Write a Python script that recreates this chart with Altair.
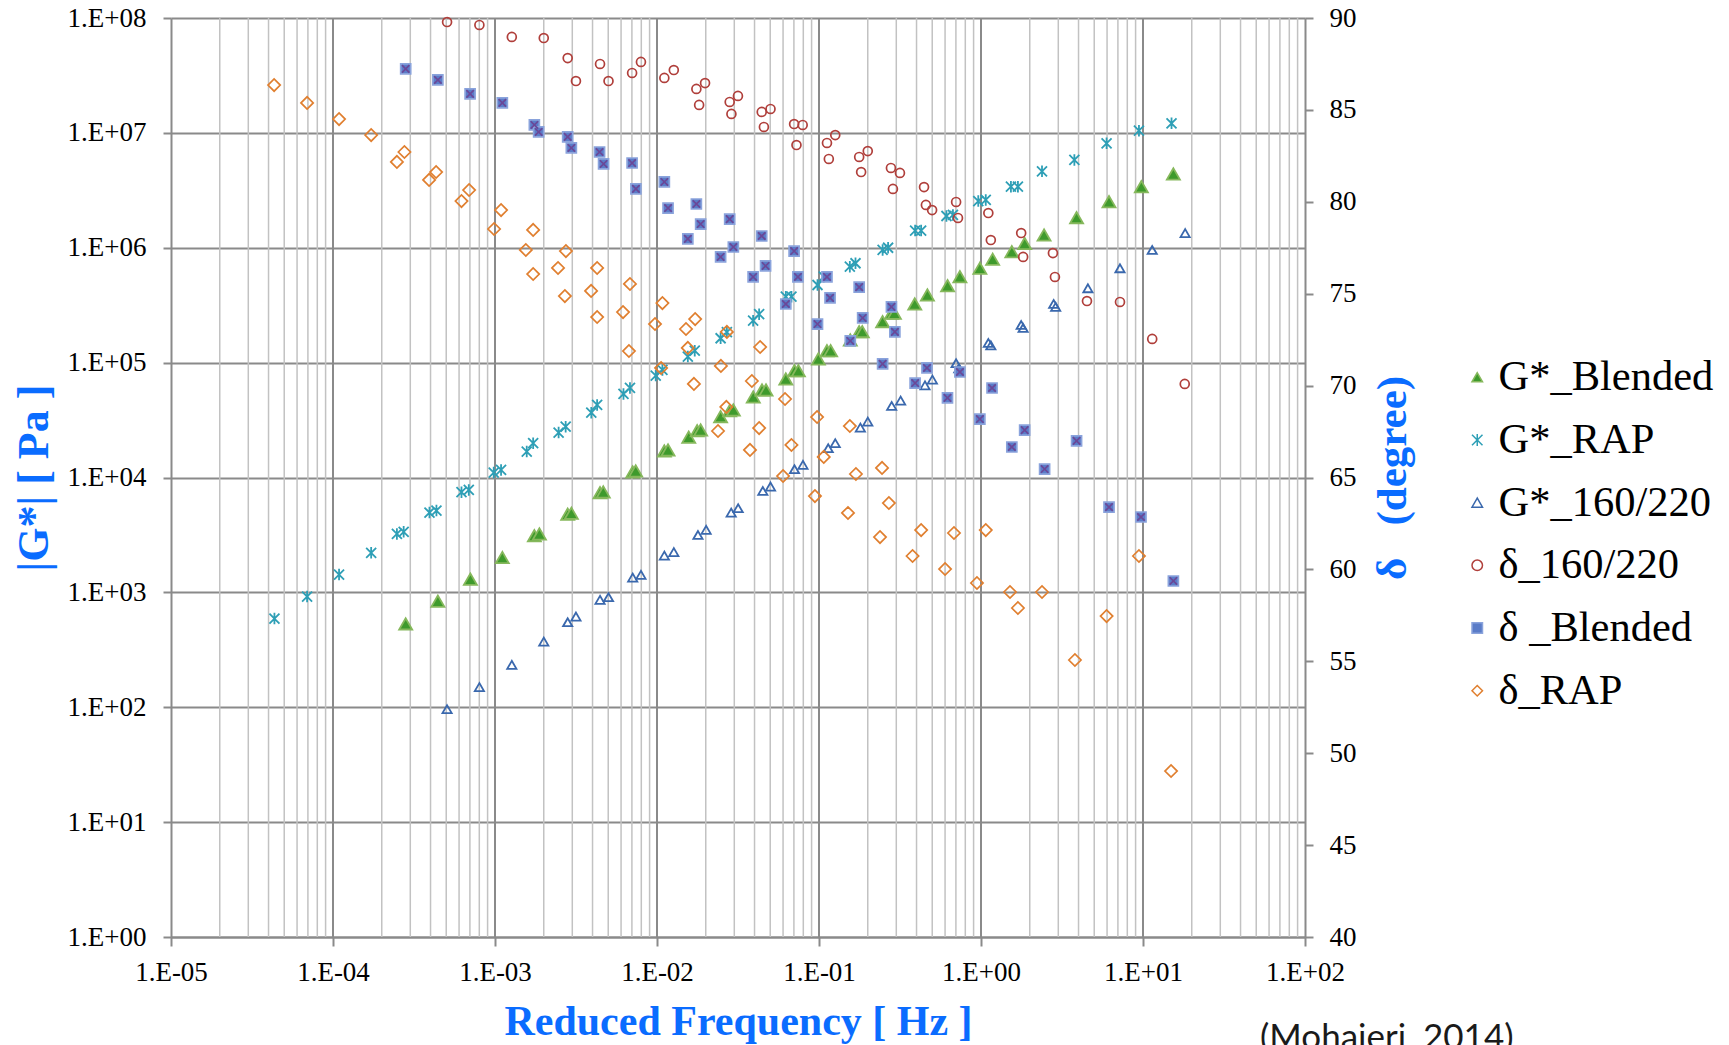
import altair as alt
import pandas as pd

# ---------------- data ----------------
series_names = ["G*_Blended", "G*_RAP", "G*_160/220", "δ_160/220", "δ _Blended", "δ_RAP"]

gb_f = [2.81e-4, 4.44e-4, 7.05e-4, 1.11e-3, 1.75e-3, 1.88e-3, 2.81e-3, 2.96e-3, 4.45e-3, 4.66e-3,
        7.08e-3, 7.39e-3, 1.11e-2, 1.17e-2, 1.57e-2, 1.77e-2, 1.86e-2, 2.47e-2, 2.81e-2, 2.96e-2,
        3.93e-2, 4.45e-2, 4.71e-2, 6.24e-2, 7.06e-2, 7.46e-2, 9.91e-2, 0.112, 0.118, 0.156,
        0.177, 0.185, 0.247, 0.280, 0.292, 0.390, 0.467, 0.622, 0.741, 0.984,
        1.18, 1.55, 1.86, 2.45, 3.89, 6.17, 9.77, 15.4]
gb_v = [532, 838, 1303, 2009, 3119, 3228, 4797, 4887, 7390, 7494,
        11190, 11410, 17030, 17380, 22420, 25590, 25950, 33880, 38200, 38740,
        50250, 57850, 57850, 72150, 85140, 85140, 107700, 127100, 127100, 157700,
        186200, 186200, 227500, 269200, 269200, 324300, 388200, 467800, 560100, 663100,
        794300, 924800, 1.09e6, 1.29e6, 1.83e6, 2.52e6, 3.40e6, 4.39e6]

gr_f = [4.35e-5, 6.92e-5, 1.09e-4, 1.72e-4, 2.48e-4, 2.73e-4, 3.94e-4, 4.35e-4, 6.21e-4, 6.89e-4,
        9.82e-4, 1.09e-3, 1.57e-3, 1.72e-3, 2.47e-3, 2.73e-3, 3.93e-3, 4.27e-3, 6.21e-3, 6.81e-3,
        9.82e-3, 1.08e-2, 1.55e-2, 1.71e-2, 2.47e-2, 2.70e-2, 3.92e-2, 4.27e-2, 6.24e-2, 6.76e-2,
        9.79e-2, 0.107, 0.155, 0.168, 0.247, 0.267, 0.392, 0.427, 0.612, 0.671,
        0.962, 1.07, 1.53, 1.69, 2.38, 3.77, 5.96, 9.44, 15.0]
gr_v = [592, 919, 1429, 2208, 3228, 3364, 4954, 5152, 7447, 7798,
        11040, 11640, 16800, 19900, 24600, 27700, 36700, 42800, 53400, 60200,
        77100, 86400, 112800, 127100, 163000, 184000, 232000, 264000, 375000, 375000,
        474000, 560000, 684000, 733000, 957000, 1.0e6, 1.41e6, 1.41e6, 1.89e6, 1.93e6,
        2.55e6, 2.61e6, 3.40e6, 3.40e6, 4.63e6, 5.81e6, 8.12e6, 1.045e7, 1.21e7]

g160_f = [5.06e-4, 8.01e-4, 1.27e-3, 2.0e-3, 2.81e-3, 3.16e-3, 4.45e-3, 5.02e-3, 7.08e-3, 7.96e-3,
          1.11e-2, 1.27e-2, 1.79e-2, 2.01e-2, 2.87e-2, 3.17e-2, 4.50e-2, 5.02e-2, 7.06e-2, 7.96e-2,
          0.114, 0.126, 0.180, 0.200, 0.281, 0.319, 0.451, 0.501, 0.702, 0.730,
          1.11, 1.15, 1.77, 1.82, 2.81, 2.89, 4.57, 7.21, 11.4, 18.2]
g160_v = [96.2, 149.6, 233.9, 373, 550, 616, 861, 908, 1345, 1420,
          2090, 2239, 3162, 3500, 4950, 5405, 7640, 8340, 11810, 12880,
          17990, 19900, 27180, 30680, 41980, 46680, 63360, 71120, 98850, 89350,
          148400, 141200, 212800, 200400, 324300, 305500, 443900, 663100, 957000, 1.34e6]

d160_f = [5.06e-4, 8.01e-4, 1.27e-3, 2.00e-3, 2.81e-3, 3.16e-3, 4.45e-3, 5.02e-3, 7.02e-3, 7.96e-3,
          1.11e-2, 1.27e-2, 1.75e-2, 1.98e-2, 1.82e-2, 2.81e-2, 3.16e-2, 2.88e-2, 4.43e-2, 5.02e-2,
          4.57e-2, 7.02e-2, 7.93e-2, 7.26e-2, 0.112, 0.126, 0.115, 0.177, 0.200, 0.182,
          0.278, 0.316, 0.286, 0.445, 0.457, 0.499, 0.702, 0.721, 1.11, 1.15,
          1.77, 1.82, 2.78, 2.86, 4.51, 7.21, 11.4, 18.1]
d160_v = [89.78, 89.62, 88.97, 88.91, 87.82, 86.57, 87.5, 86.57, 87.01, 87.61,
          86.74, 87.17, 86.14, 86.46, 85.27, 85.43, 85.76, 84.78, 84.89, 85.05,
          84.07, 84.23, 84.18, 83.09, 83.2, 83.63, 82.33, 82.44, 82.76, 81.62,
          81.84, 81.57, 80.7, 80.8, 79.83, 79.55, 79.99, 79.12, 79.39, 77.92,
          78.3, 77.0, 77.21, 75.91, 74.6, 74.55, 72.54, 70.09]

db_f = [2.81e-4, 4.44e-4, 7.02e-4, 1.11e-3, 1.75e-3, 1.86e-3, 2.81e-3, 2.96e-3, 4.42e-3, 4.68e-3,
        7.02e-3, 7.41e-3, 1.11e-2, 1.17e-2, 1.75e-2, 1.86e-2, 1.55e-2, 2.81e-2, 2.96e-2, 2.47e-2,
        4.43e-2, 4.68e-2, 3.92e-2, 7.02e-2, 7.41e-2, 6.24e-2, 0.112, 0.117, 0.0979, 0.177,
        0.186, 0.156, 0.280, 0.294, 0.247, 0.464, 0.392, 0.741, 0.621, 1.17,
        0.984, 1.86, 1.55, 2.47, 3.89, 6.17, 9.72, 15.4]
db_v = [87.23, 86.63, 85.87, 85.38, 84.18, 83.8, 83.53, 82.93, 82.71, 82.06,
        82.11, 80.7, 81.08, 79.66, 79.88, 78.79, 77.98, 79.06, 77.54, 77.0,
        78.14, 76.51, 75.91, 77.32, 75.91, 74.44, 75.91, 74.77, 73.35, 75.36,
        73.68, 72.43, 74.28, 72.92, 71.18, 70.96, 70.14, 70.74, 69.33, 69.87,
        68.18, 67.58, 66.66, 65.46, 66.99, 63.39, 62.85, 59.37]

dr_f = [4.33e-5, 6.92e-5, 1.09e-4, 1.72e-4, 2.48e-4, 2.76e-4, 3.92e-4, 4.33e-4, 6.21e-4, 6.92e-4,
        9.87e-4, 1.09e-3, 1.55e-3, 1.72e-3, 1.72e-3, 2.45e-3, 2.74e-3, 2.70e-3, 3.92e-3, 4.27e-3,
        4.27e-3, 6.17e-3, 6.81e-3, 6.71e-3, 9.72e-3, 1.08e-2, 1.06e-2, 1.51e-2, 1.72e-2, 1.55e-2,
        1.69e-2, 2.48e-2, 2.70e-2, 2.38e-2, 2.68e-2, 3.85e-2, 4.33e-2, 3.75e-2, 4.27e-2, 6.17e-2,
        6.76e-2, 6.0e-2, 9.73e-2, 0.107, 0.0944, 0.155, 0.151, 0.169, 0.245, 0.270,
        0.238, 0.378, 0.427, 0.600, 0.681, 0.944, 1.07, 1.51, 1.69, 2.38,
        3.80, 5.96, 9.44, 14.9]
dr_v = [86.35, 85.38, 84.5, 83.63, 82.17, 82.71, 81.19, 81.62, 80.04, 80.64,
        78.52, 79.55, 77.38, 78.47, 76.07, 76.4, 77.32, 74.87, 75.15, 73.73,
        76.4, 74.0, 75.53, 71.88, 73.35, 74.49, 70.96, 73.08, 73.62, 72.05,
        70.09, 71.07, 72.92, 67.53, 68.84, 70.25, 72.1, 66.5, 67.69, 69.27,
        66.77, 65.08, 68.29, 66.12, 63.99, 67.8, 63.07, 65.19, 65.52, 63.61,
        61.76, 60.73, 62.14, 60.02, 61.98, 59.26, 62.14, 58.77, 57.9, 58.77,
        55.07, 57.46, 60.73, 49.03]

x_ticks = [1e-5, 1e-4, 1e-3, 1e-2, 1e-1, 1e0, 1e1, 1e2]
x_major_inner = [1e-4, 1e-3, 1e-2, 1e-1, 1e0, 1e1]
x_minor = [m * d for d in [1e-5, 1e-4, 1e-3, 1e-2, 1e-1, 1e0, 1e1] for m in range(2, 10)]
g_ticks = [1e0, 1e1, 1e2, 1e3, 1e4, 1e5, 1e6, 1e7, 1e8]
d_ticks = [40, 45, 50, 55, 60, 65, 70, 75, 80, 85, 90]
note_text = ["(Mohajeri, 2014)"]

# ---------------- tables ----------------
def build(parts):
    rows = []
    for name, fs, vs in parts:
        for f, v in zip(fs, vs):
            rows.append({"freq": f, "val": v, "series": name})
    return pd.DataFrame(rows)

df_g = build([("G*_Blended", gb_f, gb_v), ("G*_RAP", gr_f, gr_v), ("G*_160/220", g160_f, g160_v)])
df_d = build([("δ_160/220", d160_f, d160_v), ("δ _Blended", db_f, db_v), ("δ_RAP", dr_f, dr_v)])
df_cross = df_d[df_d["series"] == "δ _Blended"]
df_minor = pd.DataFrame({"freq": x_minor})
df_major = pd.DataFrame({"freq": x_major_inner})
df_note = pd.DataFrame({"t": note_text})

# ---------------- style ----------------
SERIF = "Liberation Serif"
BLUE = "#0a6cff"
GMAJ = "#8a8a8a"
GMIN = "#c2c2c2"

ASTERISK = "M-1,-1L1,1M-1,1L1,-1M0,-1.15L0,1.15"
CROSS = "M-1,-1L1,1M-1,1L1,-1"

fill_range = ["#3e9a2c", "transparent", "transparent", "transparent", "#5a7cc8", "transparent"]
stroke_range = ["#86b85c", "#2e9fb6", "#3a68ad", "#b03f3b", "#8aa3dc", "#e07f2f"]
shape_range = ["triangle-up", ASTERISK, "triangle-up", "circle", "square", "diamond"]
size_range = [170, 100, 85, 80, 100, 150]

legend = alt.Legend(
    title=None, orient="none", legendX=1285, legendY=338, labelFont=SERIF, labelFontSize=42.5,
    labelColor="black", labelLimit=500, rowPadding=19.7, symbolSize=110, symbolStrokeWidth=1.5,
    labelOffset=0, padding=0,
)
fill_enc = alt.Fill("series:N", scale=alt.Scale(domain=series_names, range=fill_range), legend=legend)
stroke_enc = alt.Stroke("series:N", scale=alt.Scale(domain=series_names, range=stroke_range), legend=legend)
shape_enc = alt.Shape("series:N", scale=alt.Scale(domain=series_names, range=shape_range), legend=legend)
# size scale uses a reversed domain so that its (hidden) legend is not merged with the visible one
size_enc = alt.Size(
    "series:N",
    scale=alt.Scale(type="ordinal", domain=series_names[::-1], range=size_range[::-1]),
    legend=None,
)

xlab = ("'1.E' + (datum.value < 1 ? '-' : '+') + "
        "(abs(round(log(datum.value) / LN10)) < 10 ? '0' : '') + abs(round(log(datum.value) / LN10))")
ylab = "'1.E+0' + round(log(datum.value) / LN10)"

x_enc = alt.X(
    "freq:Q",
    scale=alt.Scale(type="log", domain=[1e-5, 100], nice=False),
    axis=alt.Axis(values=x_ticks, labelExpr=xlab, grid=False, tickSize=9, tickWidth=2,
                  tickColor=GMAJ, domainColor=GMAJ, domainWidth=2, labelFont=SERIF,
                  labelFontSize=27, labelColor="black", labelPadding=13, labelFlush=False,
                  labelOverlap=False, title="Reduced Frequency [ Hz ]", titleFont=SERIF,
                  titleFontSize=42, titleFontWeight="bold", titleColor=BLUE,
                  titleBaseline="alphabetic", titleY=97),
)

y_g = alt.Y(
    "val:Q",
    scale=alt.Scale(type="log", domain=[1, 1e8], nice=False),
    axis=alt.Axis(orient="left", values=g_ticks, labelExpr=ylab, grid=True, gridColor=GMAJ,
                  gridWidth=2, tickSize=8, tickWidth=2, tickColor=GMAJ, domainColor=GMAJ,
                  domainWidth=2, labelFont=SERIF, labelFontSize=27, labelColor="black",
                  labelPadding=17, labelOverlap=False, title="|G*| [ Pa ]", titleFont=SERIF,
                  titleFontSize=44, titleFontWeight="bold", titleColor=BLUE, titleAngle=270,
                  titleBaseline="alphabetic", titleX=-124),
)

y_d = alt.Y(
    "val:Q",
    scale=alt.Scale(domain=[40, 90], nice=False, zero=False),
    axis=alt.Axis(orient="right", values=d_ticks, format="d", grid=False, tickSize=8, tickWidth=2,
                  tickColor=GMAJ, domainColor=GMAJ, domainWidth=2, labelFont=SERIF,
                  labelFontSize=27, labelColor="black", labelPadding=16, labelOverlap=False,
                  title="δ\u00a0\u00a0\u00a0(degree)", titleFont=SERIF, titleFontSize=43,
                  titleFontWeight="bold", titleColor=BLUE, titleAngle=270,
                  titleBaseline="alphabetic", titleX=100),
)

grid_minor = alt.Chart(df_minor).mark_rule(color=GMIN, strokeWidth=1.5).encode(x=x_enc)
grid_major = alt.Chart(df_major).mark_rule(color=GMAJ, strokeWidth=2).encode(x=x_enc)

g_layer = alt.Chart(df_g).mark_point(filled=True, opacity=1, strokeWidth=1.8).encode(
    x=x_enc, y=y_g, fill=fill_enc, stroke=stroke_enc, shape=shape_enc, size=size_enc
)

d_points = alt.Chart(df_d).mark_point(filled=True, opacity=1, strokeWidth=1.7).encode(
    x=x_enc, y=y_d, fill=fill_enc, stroke=stroke_enc, shape=shape_enc, size=size_enc
)
d_cross = alt.Chart(df_cross).mark_point(
    filled=False, opacity=1, strokeWidth=1.7, shape=CROSS, size=55, color="#6a4898"
).encode(x=x_enc, y=y_d)
d_layer = alt.layer(d_points, d_cross)

note = alt.Chart(df_note).mark_text(
    font="Lato", fontSize=35, align="left", baseline="alphabetic", color="#1a1a1a"
).encode(text="t:N", x=alt.value(1089), y=alt.value(1031))

chart = alt.layer(grid_minor, grid_major, g_layer, d_layer, note).resolve_scale(
    y="independent"
).properties(
    width=1134,
    height=919,
    autosize=alt.AutoSizeParams(type="none"),
    padding={"left": 163, "top": 10, "right": 416, "bottom": 108},
).configure_view(strokeWidth=0)

chart.save("out.html", embed_options={"renderer": "svg", "actions": False})
